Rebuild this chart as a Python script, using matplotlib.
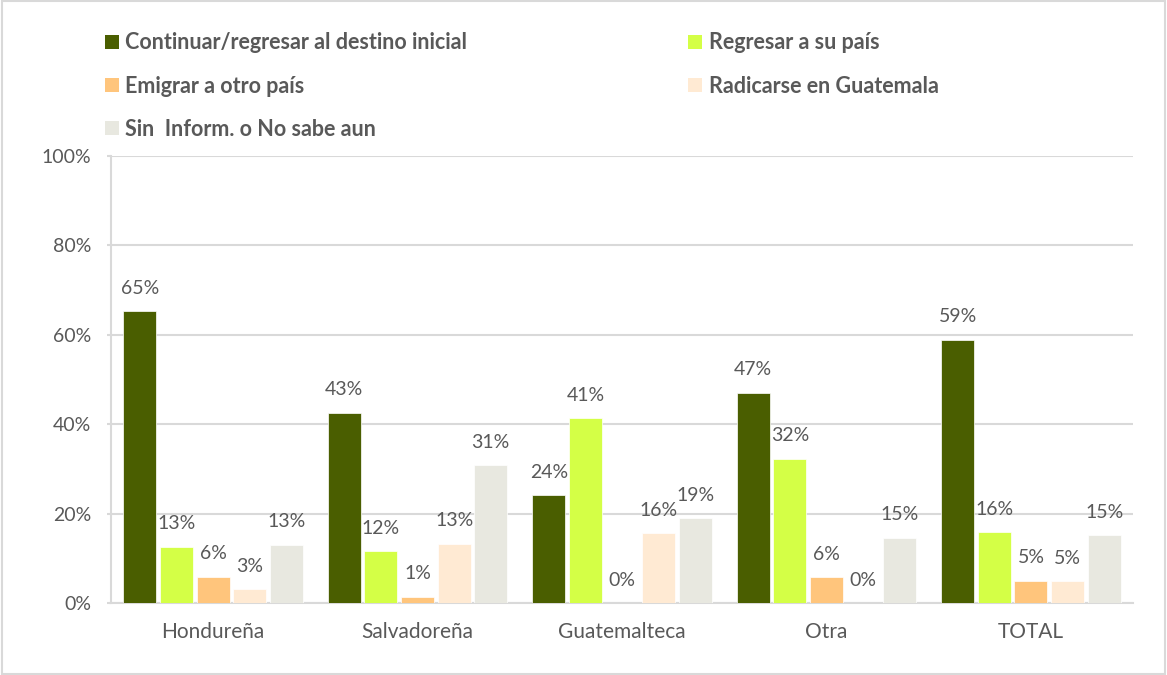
import matplotlib
matplotlib.use("Agg")
import matplotlib.pyplot as plt
import numpy as np
from matplotlib.patches import Patch, Rectangle

categories = ["Hondureña", "Salvadoreña", "Guatemalteca", "Otra", "TOTAL"]
series_names = ["Continuar/regresar al destino inicial", "Regresar a su país",
                "Emigrar a otro país", "Radicarse en Guatemala",
                "Sin  Inform. o No sabe aun"]
continuar = [65.3, 42.6, 24.1, 47.0, 58.9]
regresar = [12.6, 11.6, 41.3, 32.3, 15.8]
emigrar = [5.9, 1.4, 0.0, 5.8, 5.0]
radicarse = [3.1, 13.3, 15.6, 0.0, 4.9]
sin_inform = [13.0, 30.8, 18.9, 14.6, 15.2]
series = [continuar, regresar, emigrar, radicarse, sin_inform]
colors = ["#4a5e00", "#d4ff46", "#ffc57c", "#ffead3", "#e8e8e0"]

plt.rcParams['font.family'] = ['Lato', 'DejaVu Sans']
txt = "#595959"
grid = "#d9d9d9"

fig = plt.figure(figsize=(11.67, 6.75), dpi=100)
ax = fig.add_axes([0.095, 0.1067, 0.876, 0.6622])

x = np.arange(len(categories))
step = 0.179
width = 0.161
for i, (vals, c) in enumerate(zip(series, colors)):
    pos = x + (i - 2) * step
    bars = ax.bar(pos, vals, width=width, color=c, edgecolor="white", linewidth=0.5, zorder=3)
    for b, v in zip(bars, vals):
        ax.annotate(f"{round(v):.0f}%", (b.get_x() + b.get_width() / 2, v),
                    xytext=(0, 16.5), textcoords="offset points",
                    ha="center", va="center", fontsize=14, color=txt)

ax.set_xlim(-0.5, len(categories) - 0.5)
ax.set_ylim(0, 100)
ax.set_yticks(np.arange(0, 101, 20))
ax.set_yticklabels([f"{v}%" for v in range(0, 101, 20)])
ax.set_xticks(x)
ax.set_xticklabels(categories)
ax.tick_params(axis="y", length=3, color=grid, width=1.5, pad=11, labelsize=14, labelcolor=txt)
ax.tick_params(axis="x", length=0, pad=14, labelsize=15, labelcolor=txt)
ax.yaxis.grid(True, color=grid, linewidth=1.5, zorder=0)
ax.set_axisbelow(True)
for s in ["top", "right"]:
    ax.spines[s].set_visible(False)
for s in ["left", "bottom"]:
    ax.spines[s].set_color(grid)
    ax.spines[s].set_linewidth(1.5)

handles = [Patch(facecolor=c, edgecolor="none") for c in colors]
common = dict(frameon=False, handlelength=0.65, handleheight=0.65,
              handletextpad=0.3, labelspacing=1.03, labelcolor=txt,
              borderpad=0, borderaxespad=0,
              prop={'weight': 'bold', 'size': 15.5})
l1 = fig.legend([handles[0], handles[2], handles[4]],
                [series_names[0], series_names[2], series_names[4]],
                loc="upper left", bbox_to_anchor=(0.09, 0.952), **common)
l2 = fig.legend([handles[1], handles[3]], [series_names[1], series_names[3]],
                loc="upper left", bbox_to_anchor=(0.5896, 0.952), **common)

fig.patches.append(Rectangle((0.002, 0.001), 0.996, 0.997, transform=fig.transFigure,
                             fill=False, edgecolor=grid, linewidth=1.5))

fig.savefig("out.png", dpi=100)
